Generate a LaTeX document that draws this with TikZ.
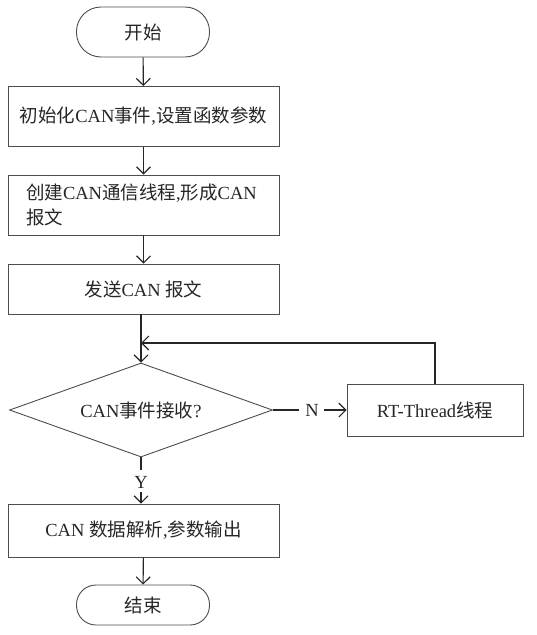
\documentclass[tikz,border=0pt]{standalone}
\usepackage{fontspec}
\setmainfont{Liberation Serif}
\newfontfamily\cjk{Noto Sans CJK SC}
\newcommand{\zh}[1]{{\cjk #1}}
\usetikzlibrary{shapes.geometric,arrows.meta}
\begin{document}
\begin{tikzpicture}[x=1pt,y=-1pt,
  every node/.style={font=\fontsize{18.5}{25}\selectfont, text=black!85},
  line/.style={draw=black!85, line width=1.1pt},
  arr/.style={line, -{Straight Barb[length=7pt,width=14pt]}},
  procbox/.style={draw=black!70, line width=0.9pt, rectangle, minimum width=271pt, inner sep=0pt},
  term/.style={draw=black!70, line width=0.9pt, rectangle, minimum width=133pt, inner sep=0pt},
  decide/.style={draw=black!70, line width=0.9pt, diamond, aspect=2.8, minimum width=263pt, minimum height=94pt, inner sep=0pt}
]
\useasboundingbox (0,0) rectangle (537,635);
\node[term, minimum height=50pt, rounded corners=24.5pt] (start) at (143,32) {\zh{开始}};
\node[procbox, minimum height=60pt] (b1) at (143.5,116.5) {\zh{初始化}CAN\zh{事件},\zh{设置函数参数}};
\node[procbox, minimum height=60pt, text width=235pt, align=left] (b2) at (143.5,205) {\zh{创建}CAN\zh{通信线程},\zh{形成}CAN\\\zh{报文}};
\node[procbox, minimum height=50pt] (b3) at (143.5,289) {\zh{发送}CAN \zh{报文}};
\node[decide] (d) at (141,410) {CAN\zh{事件接收}?};
\node[procbox, minimum width=176pt, minimum height=52pt] (rt) at (435,410) {RT-Thread\zh{线程}};
\node[procbox, minimum height=53pt] (b5) at (143.5,530.5) {CAN \zh{数据解析},\zh{参数输出}};
\node[term, minimum height=40pt, rounded corners=19.5pt] (end) at (143,605) {\zh{结束}};
\coordinate (loopc) at (rt.north |- 0,343);
\coordinate (joinc) at (d.north |- 0,343);
\draw[arr] (start) -- (b1);
\draw[arr] (b1) -- (b2);
\draw[arr] (b2) -- (b3);
\draw[arr] (b3.south -| d.north) -- (d.north);
\draw[arr] (rt.north) -- (loopc) -- (joinc);
\draw[line] (d.east) -- (299,410);
\node[inner sep=0pt] (nl) at (312,410) {N};
\draw[arr] (nl.east) ++(5,0) coordinate (nstart) (nstart) -- (rt.west);
\draw[line] (d.south) -- (141,470);
\node[inner sep=0pt] (yl) at (141,482) {Y};
\draw[arr] (141,492) -- (b5.north -| d.south);
\draw[arr] (b5) -- (end);
\end{tikzpicture}
\end{document}
